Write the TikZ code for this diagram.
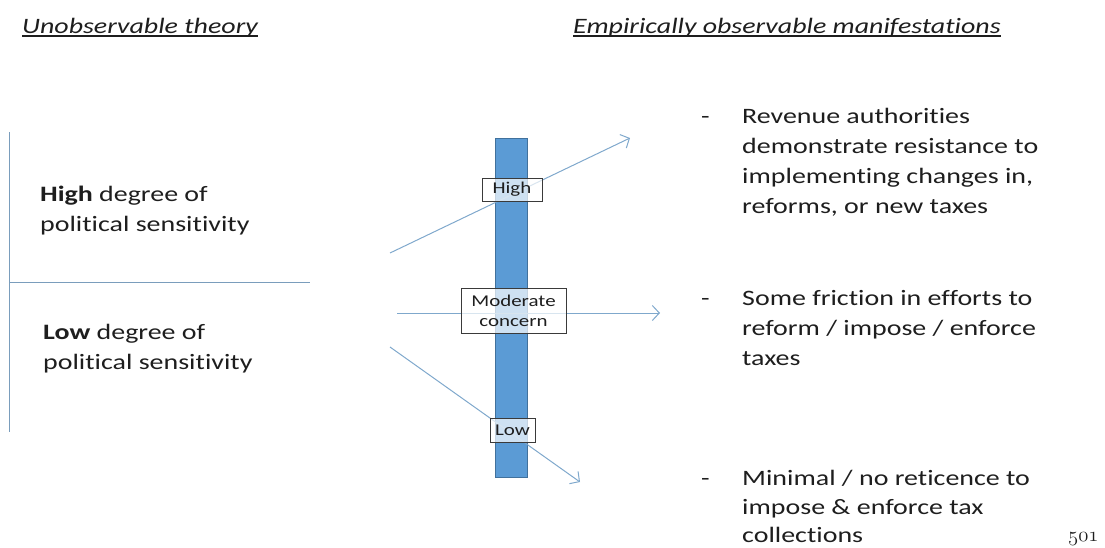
\documentclass[tikz,border=0pt]{standalone}
\usepackage{fontspec}
\setmainfont{Carlito}[FakeStretch=1.27, Ligatures={TeX,NoCommon}]
\usetikzlibrary{arrows.meta}
\definecolor{txt}{HTML}{1E1E1E}
\definecolor{barfill}{HTML}{5B9BD5}
\definecolor{barline}{HTML}{41719C}
\definecolor{arrcol}{HTML}{7FA8CC}
\definecolor{rulecol}{HTML}{7A9DBC}
\definecolor{boxline}{HTML}{3A3A3A}
\tikzset{
  title/.style={anchor=base west, inner sep=0pt, text=txt, font=\fontsize{22}{30}\selectfont\itshape},
  body/.style={anchor=base west, inner sep=0pt, text=txt, font=\fontsize{22}{30}\selectfont},
  lbl/.style={draw=boxline, line width=0.8pt, fill=white, fill opacity=0.7, text opacity=1, text=txt,
     font=\fontsize{16.5}{20}\selectfont, align=center, inner sep=2pt},
  conn/.style={draw=arrcol, line width=1pt, -{Straight Barb[length=7pt,width=15pt,line width=1pt]}},
  rulel/.style={draw=rulecol, line width=1pt}
}
\begin{document}
\begin{tikzpicture}[x=1pt,y=-1pt]
\useasboundingbox (0,0) rectangle (1105,547);
% titles
\node[title] (t1) at (22,33) {Unobservable theory};
\node[title] (t2) at (573,33) {Empirically observable manifestations};
\draw[txt, line width=1.1pt] ([yshift=-3pt]t1.base west) -- ([yshift=-3pt]t1.base east);
\draw[txt, line width=1.1pt] ([yshift=-3pt]t2.base west) -- ([yshift=-3pt]t2.base east);
% left frame lines
\coordinate (v1) at (9,132);
\coordinate (v2) at (9,432);
\coordinate (h1) at (9,282);
\coordinate (h2) at (310,282);
\draw[rulel] (v1) -- (v2);
\draw[rulel] (h1) -- (h2);
% left texts
\node[body] (hi1) at (40,201) {\textbf{High} degree of};
\node[body] (hi2) at (40,231) {political sensitivity};
\node[body] (lo1) at (43,339) {\textbf{Low} degree of};
\node[body] (lo2) at (43,369) {political sensitivity};
% bar
\node[draw=barline, fill=barfill, line width=0.8pt, minimum width=32pt, minimum height=339pt, inner sep=0pt] (bar) at (511,307.5) {};
% arrows
\coordinate (a1s) at (390,253);
\coordinate (a1e) at (630,138);
\coordinate (a2s) at (397,313);
\coordinate (a2e) at (660,313);
\coordinate (a3s) at (390,347);
\coordinate (a3e) at (580,482);
\draw[conn] (a1s) -- (a1e);
\draw[conn] (a2s) -- (a2e);
\draw[conn] (a3s) -- (a3e);
% labels
\node[lbl, minimum width=60pt, minimum height=23pt] (lh) at (512,189.5) {High};
\node[lbl, minimum width=105pt, minimum height=45pt] (lm) at (513.5,310.5) {Moderate\\concern};
\node[lbl, minimum width=45pt, minimum height=24pt] (ll) at (512.5,430) {Low};
% right texts
\node[body] (d1) at (701,123) {-};
\node[body] (r11) at (742,123) {Revenue authorities};
\node[body] (r12) at (742,153) {demonstrate resistance to};
\node[body] (r13) at (742,183) {implementing changes in,};
\node[body] (r14) at (742,213) {reforms, or new taxes};
\node[body] (d2) at (701,305) {-};
\node[body] (r21) at (742,305) {Some friction in efforts to};
\node[body] (r22) at (742,335) {reform / impose / enforce};
\node[body] (r23) at (742,365) {taxes};
\node[body] (d3) at (701,485) {-};
\node[body] (r31) at (742,485) {Minimal / no reticence to};
\node[body] (r32) at (742,514) {impose \& enforce tax};
\node[body] (r33) at (742,542) {collections};
\node[anchor=base west, inner sep=0pt, text=txt, font=\fontsize{21}{24}\usefont{OML}{cmm}{m}{it}] (pg) at (1068,541) {501};
\end{tikzpicture}
\end{document}
